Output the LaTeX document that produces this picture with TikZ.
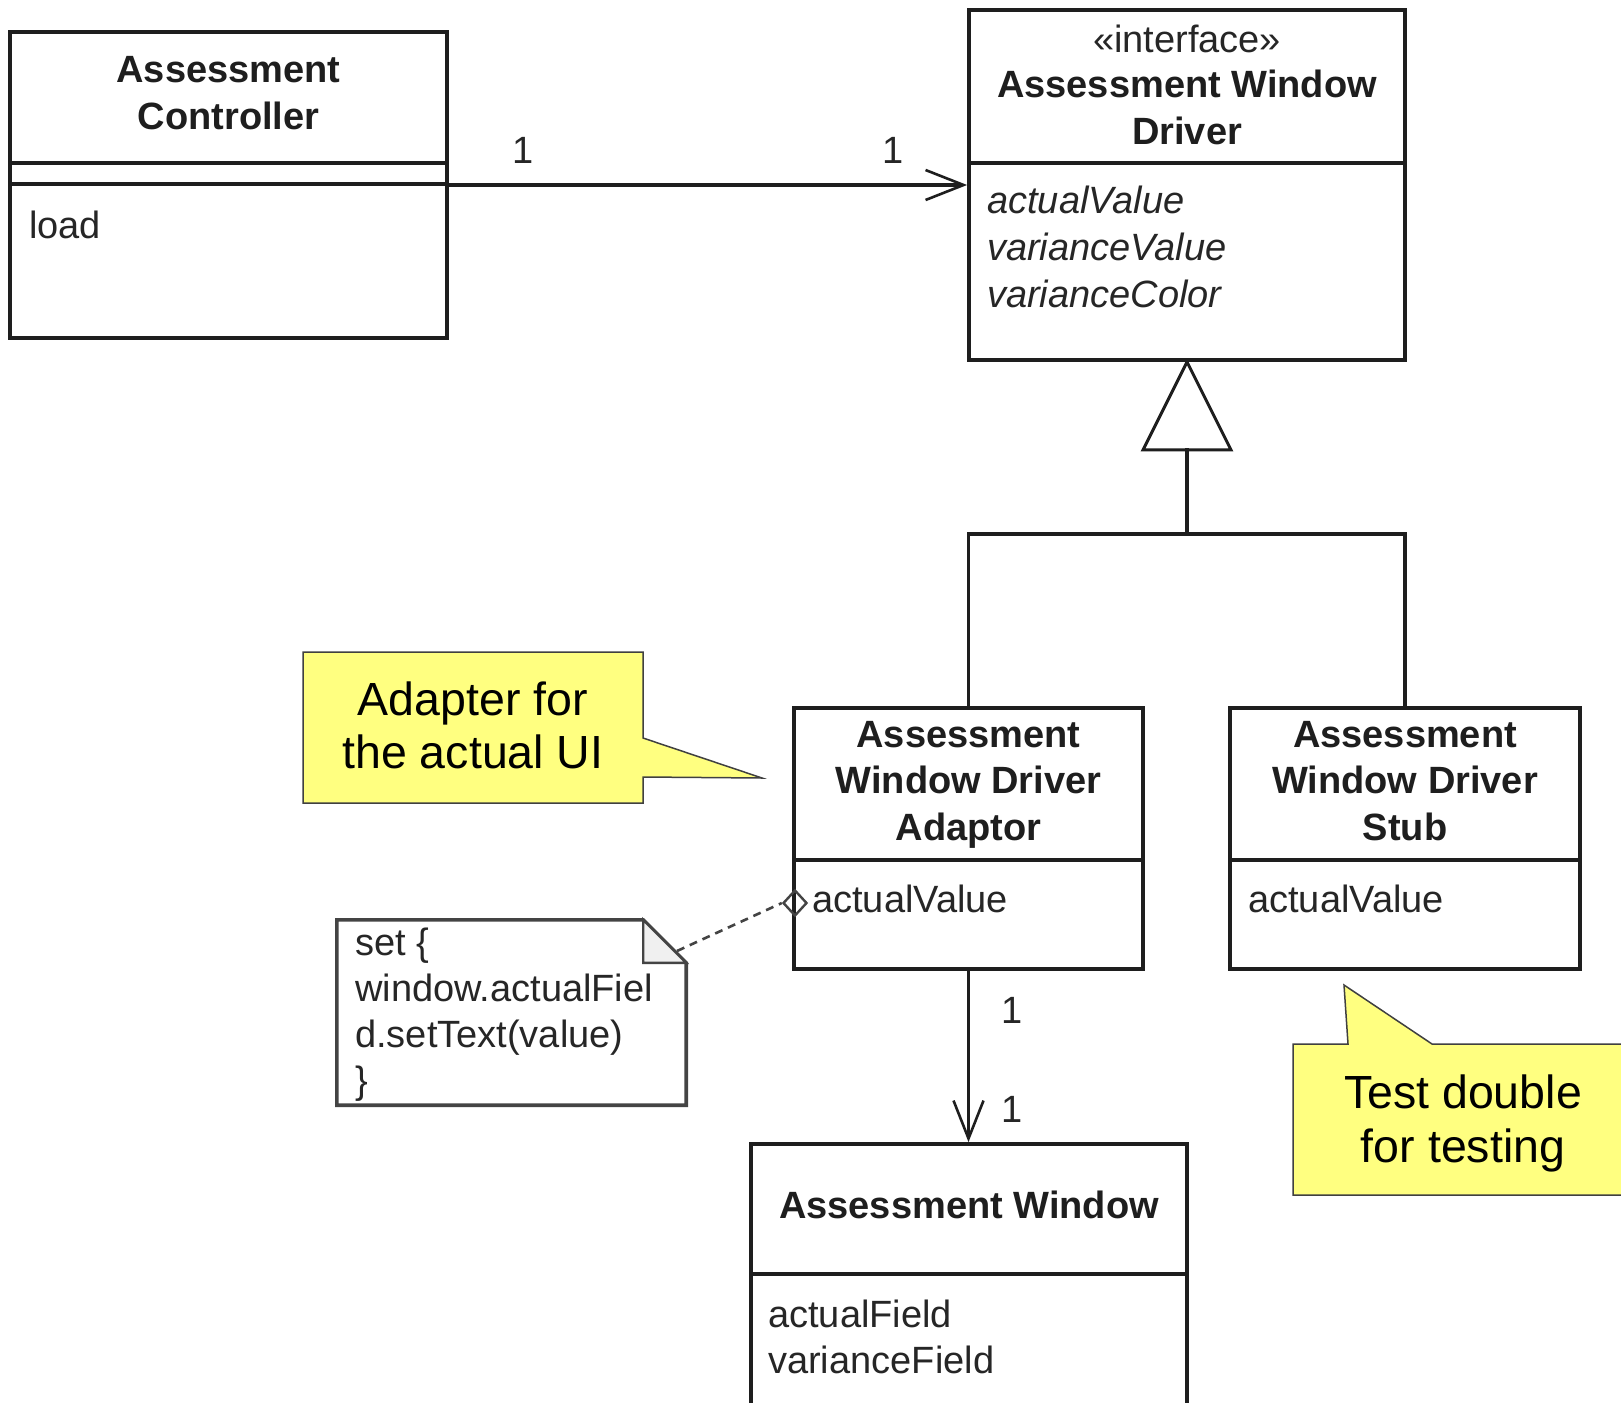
\documentclass[tikz,border=0pt]{standalone}
\usepackage{fontspec}
\setmainfont{Liberation Sans}
\usetikzlibrary{arrows.meta,shapes.geometric}

\definecolor{ink}{HTML}{1E1E1E}
\definecolor{txt}{HTML}{262626}
\definecolor{notefill}{HTML}{FFFF80}
\definecolor{notegray}{HTML}{444444}

\begin{document}
\begin{tikzpicture}[x=1pt,y=-1pt,
  umlbox/.style={rectangle, draw=ink, line width=3.8pt, fill=white, inner sep=0pt},
  sepline/.style={draw=ink, line width=3.8pt},
  cname/.style={font=\fontsize{38}{46}\selectfont\bfseries, text=ink, anchor=base, inner sep=0pt},
  stereo/.style={font=\fontsize{38}{46}\selectfont, text=txt, anchor=base, inner sep=0pt},
  attr/.style={font=\fontsize{38}{46}\selectfont, text=txt, anchor=base west, inner sep=0pt},
  iattr/.style={font=\fontsize{38}{46}\selectfont\itshape, text=txt, anchor=base west, inner sep=0pt},
  mult/.style={font=\fontsize{38}{46}\selectfont, text=txt, anchor=base, inner sep=0pt},
  link/.style={draw=ink, line width=3.2pt},
  navarrow/.style={-{Straight Barb[length=38pt, width=30pt, line width=2.6pt]}},
  callout/.style={fill=notefill, draw=black!75, line width=1.5pt, line join=miter},
  calltext/.style={font=\fontsize{46.5}{54}\selectfont, text=black, anchor=base, inner sep=0pt},
  codenote/.style={draw=notegray, line width=3.6pt, fill=white, line join=miter},
]

\useasboundingbox (0,0) rectangle (1621,1402);
\clip (0,0) rectangle (1621,1402);
\fill[white] (0,0) rectangle (1621,1402);

% ---- class boxes ----
\node[umlbox, minimum width=437pt, minimum height=306pt] (ctl) at (228.5,185) {};
\node[umlbox, minimum width=436pt, minimum height=350pt] (iface) at (1187,185) {};
\node[umlbox, minimum width=349pt, minimum height=261pt] (adp) at (968.5,838.5) {};
\node[umlbox, minimum width=350pt, minimum height=261pt] (stub) at (1405,838.5) {};
\node[umlbox, minimum width=436pt, minimum height=306pt] (win) at (969,1297) {};

% compartment separators
\draw[sepline] (10,163) -- (447,163);
\draw[sepline] (10,184) -- (447,184);
\draw[sepline] (969,163) -- (1405,163);
\draw[sepline] (794,860) -- (1143,860);
\draw[sepline] (1230,860) -- (1580,860);
\draw[sepline] (751,1274) -- (1187,1274);

% ---- class texts ----
\node[cname] (ctl-n1) at (228.5,83) {Assessment};
\node[cname] (ctl-n2) at (228.5,130) {Controller};
\node[attr] (ctl-a1) at (29,238) {load};

\node[stereo] (if-st) at (1187,53) {«interface»};
\node[cname] (if-n1) at (1187,98) {Assessment Window};
\node[cname] (if-n2) at (1187,144) {Driver};
\node[iattr] (if-a1) at (987,213) {actualValue};
\node[iattr] (if-a2) at (987,260) {varianceValue};
\node[iattr] (if-a3) at (987,307) {varianceColor};

\node[cname] (adp-n1) at (968.5,747) {Assessment};
\node[cname] (adp-n2) at (968.5,793) {Window Driver};
\node[cname] (adp-n3) at (968.5,840) {Adaptor};
\node[attr] (adp-a1) at (812,912) {actualValue};

\node[cname] (stub-n1) at (1405,747) {Assessment};
\node[cname] (stub-n2) at (1405,793) {Window Driver};
\node[cname] (stub-n3) at (1405,840) {Stub};
\node[attr] (stub-a1) at (1248,912) {actualValue};

\node[cname] (win-n1) at (969,1218) {Assessment Window};
\node[attr] (win-a1) at (768,1327) {actualField};
\node[attr] (win-a2) at (768,1373) {varianceField};

% ---- associations ----
\draw[link, navarrow] (ctl.east) -- (iface.west);
\node[mult] (m1) at (523,163) {1};
\node[mult] (m2) at (893,163) {1};

\draw[link, navarrow] (adp.south) -- (adp.south |- win.north);
\node[mult] (m3) at (1012,1023) {1};
\node[mult] (m4) at (1012,1122) {1};

% ---- realization ----
\coordinate (gbase) at (1187,448);
\coordinate (gbar) at (1187,534);
\draw[draw=ink, line width=3pt, fill=white, line join=miter] (iface.south) -- ++(-44,88) -- ++(88,0) -- cycle;
\draw[link] (gbase) -- (gbar);
\draw[link] (adp.north) |- (gbar) -| (stub.north);

% ---- code note ----
\node[inner sep=0pt, minimum width=349pt, minimum height=185pt] (note) at (511.5,1012.5) {};
\draw[codenote] (note.north west) -- ([xshift=-43pt]note.north east) -- ([yshift=-43pt]note.north east)
  -- (note.south east) -- (note.south west) -- cycle;
\draw[draw=notegray, line width=2.4pt, fill=gray!12, line join=miter]
  ([xshift=-43pt]note.north east) |- ([yshift=-43pt]note.north east) -- cycle;
\node[attr] (note-l1) at (355,955) {set \{};
\node[attr] (note-l2) at (355,1001) {window.actualFiel};
\node[attr] (note-l3) at (355,1047) {d.setText(value)};
\node[attr] (note-l4) at (355,1093) {\}};

\node[diamond, draw=notegray, line width=2.4pt, inner sep=0pt, minimum width=24pt, minimum height=26pt] (attach) at (795,903) {};
\coordinate (notept) at (677,951);
\draw[draw=notegray, line width=2.6pt, dash pattern=on 8pt off 6pt] (notept) -- (attach.west);

% ---- callouts ----
\draw[callout] (303,652) -- (643,652) -- (643,738) -- (762,778) -- (643,777) -- (643,803) -- (303,803) -- cycle;
\node[calltext] (c1-l1) at (473,715) {Adapter for};
\node[calltext] (c1-l2) at (473,768) {the actual UI};

\draw[callout] (1293,1044) -- (1348,1044) -- (1344,985) -- (1432,1044) -- (1640,1044) -- (1640,1195) -- (1293,1195) -- cycle;
\node[calltext] (c2-l1) at (1463,1108) {Test double};
\node[calltext] (c2-l2) at (1463,1162) {for testing};

\end{tikzpicture}
\end{document}
